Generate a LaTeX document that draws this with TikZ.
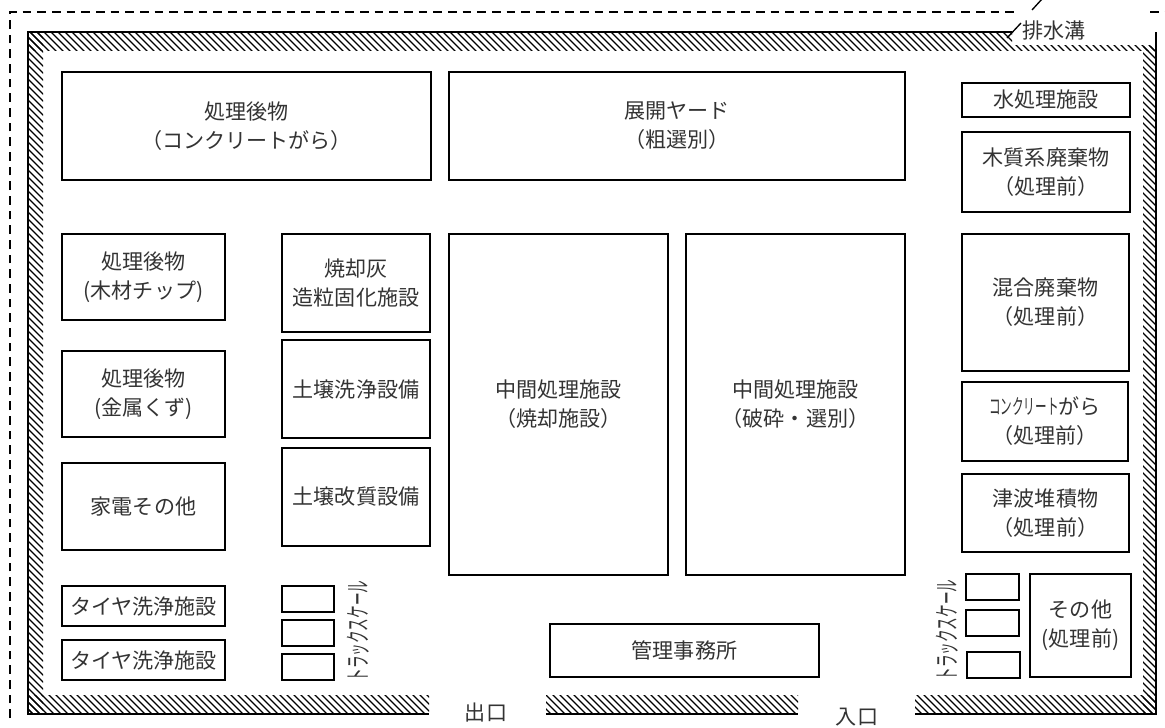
\documentclass[tikz,border=0pt]{standalone}
\usepackage{fontspec}
\setmainfont{Noto Sans CJK JP}
\tikzset{
  x=0.75pt,y=-0.75pt,
  boxstyle/.style={draw=black,line width=1.5pt,fill=white,inner sep=0pt,align=center,text=black!80,font=\fontsize{15.8}{21.8}\selectfont},
  lbl/.style={inner sep=0pt,align=center,text=black!80,font=\fontsize{15.8}{21.8}\selectfont},
  wall/.style={draw=black,line width=1.8pt},
  hatchline/.style={draw=black,line width=0.85pt},
  fence/.style={draw=black,line width=1.5pt,dash pattern=on 6.5pt off 4.5pt},
  trucklbl/.style={lbl,rotate=90,xscale=.6,yscale=1.2}
}
\newcommand{\bx}[6]{%
  \pgfmathsetmacro{\cxx}{(#2+#4)/2}\pgfmathsetmacro{\cyy}{(#3+#5)/2}%
  \pgfmathsetmacro{\wwd}{(#4-#2)*0.75}\pgfmathsetmacro{\hht}{(#5-#3)*0.75}%
  \node[boxstyle,minimum width=\wwd pt,minimum height=\hht pt] (#1) at (\cxx,\cyy) {#6};}
\newcommand{\hatchband}[4]{%
  \begin{scope}
    \clip (#1,#2) rectangle (#3,#4);
    \foreach \hx in {0,7,...,2000}{\draw[hatchline] (\hx-800,0) -- (\hx,800);}
  \end{scope}}
\begin{document}
\begin{tikzpicture}
\useasboundingbox (0,0) rectangle (1165,728);
% hatching
\hatchband{28}{32}{1012}{50}
\hatchband{1012}{45}{1156}{50}
\hatchband{28}{32}{43}{714}
\hatchband{1143}{46}{1156}{714}
\hatchband{28}{695}{429}{714}
\hatchband{546}{695}{798}{714}
\hatchband{915}{695}{1156}{714}
% wall outline
\coordinate (wa) at (1012,32); \coordinate (wb) at (28,32); \coordinate (wc) at (28,714);
\coordinate (wd) at (429,714); \coordinate (we) at (546,714); \coordinate (wf) at (798,714);
\coordinate (wg) at (915,714); \coordinate (wh) at (1156,714); \coordinate (wi) at (1156,32);
\draw[wall] (wa) -- (wb) -- (wc) -- (wd);
\draw[wall] (we) -- (wf);
\draw[wall] (wg) -- (wh) -- (wi);
% fence
\coordinate (fa) at (10,718); \coordinate (fb) at (10,12); \coordinate (fc) at (1020,12);
\coordinate (fd) at (1150,12); \coordinate (fe) at (1165,12);
\draw[fence] (fa) -- (fb) -- (fc);
\draw[fence] (fd) -- (fe);
% drain
\coordinate (da) at (1007,38); \coordinate (db) at (1021,23);
\coordinate (dc) at (1032,10); \coordinate (dd) at (1042,-1);
\draw[black,line width=1pt] (da) -- (db);
\draw[black,line width=1pt] (dc) -- (dd);
\node[lbl] (drain) at (1054,30) {排水溝};
% boxes
\bx{b1}{62}{72}{431}{180}{処理後物\\（コンクリートがら）}
\bx{b2}{449}{72}{905}{180}{展開ヤード\\（粗選別）}
\bx{b3}{962}{83}{1130}{117}{水処理施設}
\bx{b4}{962}{132}{1130}{212}{木質系廃棄物\\（処理前）}
\bx{b5}{962}{234}{1129}{371}{混合廃棄物\\（処理前）}
\bx{b6}{962}{382}{1128}{461}{\scalebox{.55}[1]{コンクリート}がら\\（処理前）}
\bx{b7}{962}{474}{1129}{552}{津波堆積物\\（処理前）}
\bx{b8}{1030}{574}{1131}{677}{その他\\(処理前)}
\bx{b9}{966}{574}{1019}{600}{}
\bx{b10}{966}{610}{1019}{636}{}
\bx{b11}{967}{652}{1020}{678}{}
\bx{b12}{550}{624}{819}{677}{管理事務所}
\bx{b13}{449}{234}{668}{575}{中間処理施設\\（焼却施設）}
\bx{b14}{686}{234}{905}{575}{中間処理施設\\（破砕・選別）}
\bx{b15}{282}{234}{430}{332}{焼却灰\\造粒固化施設}
\bx{b16}{282}{340}{430}{438}{土壌洗浄設備}
\bx{b17}{282}{448}{430}{546}{土壌改質設備}
\bx{b18}{62}{234}{225}{320}{処理後物\\(木材チップ)}
\bx{b19}{62}{351}{225}{437}{処理後物\\(金属くず)}
\bx{b20}{62}{463}{225}{550}{家電その他}
\bx{b21}{62}{586}{225}{626}{タイヤ洗浄施設}
\bx{b22}{62}{640}{225}{680}{タイヤ洗浄施設}
\bx{b23}{282}{586}{334}{612}{}
\bx{b24}{282}{620}{334}{646}{}
\bx{b25}{282}{654}{334}{680}{}
% labels
\node[trucklbl] (t1) at (358,631) {トラックスケール};
\node[trucklbl] (t2) at (947,630) {トラックスケール};
\node[lbl] (exit) at (486,713) {出口};
\node[lbl] (entry) at (857,717) {入口};
\end{tikzpicture}
\end{document}
